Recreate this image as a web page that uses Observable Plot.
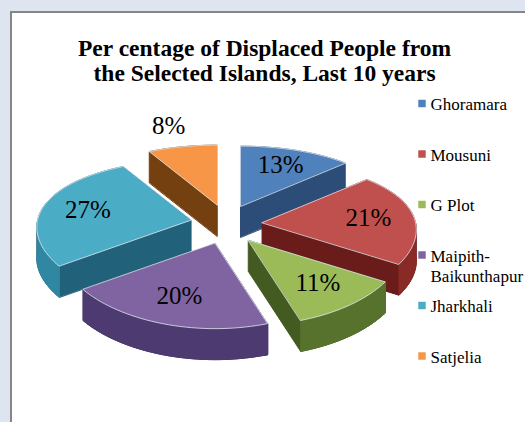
<!DOCTYPE html>
<html><head><meta charset="utf-8">
<script src="https://cdn.jsdelivr.net/npm/d3@7"></script>
<script src="https://cdn.jsdelivr.net/npm/@observablehq/plot@0.6"></script>
<style>
html,body{margin:0;padding:0;background:#dfe4f1;}
#page{position:relative;width:525px;height:422px;overflow:hidden;background:#dfe4f1;}
#frame{position:absolute;left:10px;top:11px;width:600px;height:500px;background:#fff;border-left:2px solid #868686;border-top:2px solid #868686;}
#chart{position:absolute;left:0;top:0;}
</style></head><body>
<div id="page"><div id="frame"></div><div id="chart"></div></div>
<script>
// ---- data ----
const islands = ["Ghoramara", "Mousuni", "G Plot", "Maipith-Baikunthapur", "Jharkhali", "Satjelia"];
const shares = [13, 21, 11, 20, 27, 8];
const faceColors = ["#4F81BD", "#C0504D", "#9BBB59", "#8064A2", "#4BACC6", "#F79646"];
const sideColors = ["#3a64a0", "#8a2a27", "#56722c", "#4d3a70", "#2f87a2", "#a35c1e"];
const wallColors = ["#2c4d77", "#6a1c1a", "#435a20", "#3c2d5a", "#21617a", "#744010"];
const titleLines = ["Per centage of Displaced People from", "the Selected Islands, Last 10 years"];

// ---- layout ----
const W = 525, H = 422;
const cx = 225.7, cy = 224, ex = 36, ey = 20, Rx = 153.5, Ry = 70.4, px = 0.1, py = 0.173, T = 31;
const serif = "'Liberation Serif', 'Times New Roman', Times, serif";

const arcs = d3.pie().sort(null).startAngle(0).endAngle(2 * Math.PI)(shares);

function P(mid, r, th, drop = 0) {
  const u = r * Math.sin(th), v = r * Math.cos(th);
  return [cx + ex * Math.sin(mid) + Rx * u / (1 + px * v),
          cy - ey * Math.cos(mid) - Ry * v / (1 + py * v) + drop];
}
function arcPts(mid, a0, a1, drop) {
  const n = Math.max(2, Math.ceil((a1 - a0) / (Math.PI / 90)));
  return d3.range(n + 1).map(k => P(mid, 1, a0 + (a1 - a0) * k / n, drop));
}

const slices = arcs.map((a, i) => {
  const mid = (a.startAngle + a.endAngle) / 2;
  return {i, a0: a.startAngle, a1: a.endAngle, mid, depth: P(mid, 0, 0)[1]};
});
const order = d3.sort(slices, s => s.depth);

const polyPts = [];
let pid = 0;
function addPoly(pts, fill, stroke) {
  const id = pid++;
  for (const [x, y] of pts) polyPts.push({id, x, y, fill, stroke});
}
for (const s of order) {
  const top = [P(s.mid, 0, 0, 0), ...arcPts(s.mid, s.a0, s.a1, 0)];
  const bot = [P(s.mid, 0, 0, T), ...arcPts(s.mid, s.a0, s.a1, T)];
  addPoly(d3.polygonHull([...top, ...bot]), wallColors[s.i], wallColors[s.i]);
  const lo = Math.max(s.a0, Math.PI / 2), hi = Math.min(s.a1, 3 * Math.PI / 2);
  if (hi > lo) {
    addPoly([...arcPts(s.mid, lo, hi, 0), ...arcPts(s.mid, lo, hi, T).reverse()], sideColors[s.i], sideColors[s.i]);
  }
  addPoly(top, faceColors[s.i], "rgba(235,240,248,0.75)");
}

const labels = slices.map(s => {
  const r = shares[s.i] >= 10 ? 0.7 : 1.45;
  const [x, y] = P(s.mid, r, s.mid, 0);
  return {x, y, text: shares[s.i] + "%"};
});

const legendFont = 17, legendLH = 1.2;
const legend = islands.map((name, i) => {
  const text = name.replace("-", "-\n");
  const lines = text.split("\n").length;
  const yc = 103 + 50.5 * i;
  return {name, text, ys: yc, yt: yc + (lines - 1) * legendLH * legendFont / 2, color: faceColors[i]};
});

const chart = Plot.plot({
  width: W, height: H, margin: 0,
  x: {domain: [0, W], range: [0, W], axis: null},
  y: {domain: [0, H], range: [0, H], axis: null},
  color: {type: "identity"},
  style: {background: "transparent"},
  marks: [
    Plot.line(polyPts, {x: "x", y: "y", z: "id", fill: "fill", stroke: "stroke", strokeWidth: 1, curve: "linear-closed"}),
    Plot.text(labels, {x: "x", y: "y", text: "text", fontSize: 25, fontFamily: serif, fill: "#000"}),
    Plot.text([titleLines.join("\n")], {frameAnchor: "top", dx: 1.5, dy: 37.6, lineAnchor: "top", lineHeight: 25 / 23.5,
      fontSize: 23.5, fontWeight: "bold", fontFamily: serif, fill: "#000"}),
    Plot.dot(legend, {x: () => 421.5, y: "ys", symbol: "square", r: 4.2, fill: "color", stroke: null}),
    Plot.text(legend, {x: () => 430, y: "yt", text: "text", textAnchor: "start", fontSize: legendFont,
      lineHeight: legendLH, fontFamily: serif, fill: "#000"})
  ]
});
document.getElementById("chart").appendChild(chart);
</script>
</body></html>
